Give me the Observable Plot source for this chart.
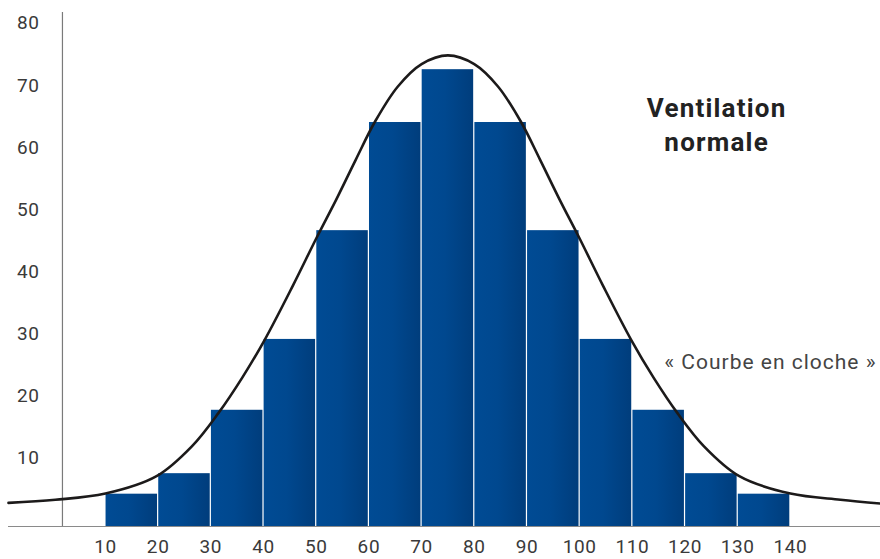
<!DOCTYPE html>
<html>
<head>
<meta charset="utf-8">
<script src="https://cdn.jsdelivr.net/npm/d3@7"></script>
<script src="https://cdn.jsdelivr.net/npm/@observablehq/plot@0.6"></script>
<style>
  html, body { margin: 0; padding: 0; background: #fff; }
  #chart svg { display: block; }
</style>
</head>
<body>
<div id="chart"></div>
<script>
// Histogram bins (lower edge of each class) and bar heights
const binLow = [10, 20, 30, 40, 50, 60, 70, 80, 90, 100, 110, 120, 130];
const binWidth = 10;
const counts = [5.2, 8.5, 18.7, 30.1, 47.6, 65.0, 73.5, 65.0, 47.6, 30.1, 18.7, 8.5, 5.2];

// Bell curve points
const curveX = [-8.4, 0.5, 10, 19.7, 26.4, 31.4, 36.0, 40.2, 45.6, 50.1, 53.8, 57.5, 61.2, 65.5, 70, 75,
                80, 84.5, 88.8, 92.5, 96.2, 99.9, 104.4, 109.8, 114, 118.6, 123.6, 130.3, 140, 149.5, 157.1];
const curveY = [3.8, 4.3, 5.3, 8.1, 12.9, 18.2, 24.0, 30.0, 38.8, 46.5, 52.6, 59.0, 65.2, 70.8, 74.4, 75.8,
                74.4, 70.8, 65.2, 59.0, 52.6, 46.5, 38.8, 30.0, 24.0, 18.2, 12.9, 8.1, 5.3, 4.3, 3.7];

// Tick labels
const xTicks = [10, 20, 30, 40, 50, 60, 70, 80, 90, 100, 110, 120, 130, 140];
const yTicks = [10, 20, 30, 40, 50, 60, 70, 80];

// Annotations
const titleText = "Ventilation\nnormale";
const curveLabel = "«\u00A0Courbe en cloche\u00A0»";

const bars = binLow.map((x, i) => ({x1: x, x2: x + binWidth, y: counts[i]}));
const curve = curveX.map((x, i) => ({x, y: curveY[i]}));

const font = "Roboto, 'DejaVu Sans', sans-serif";

const chart = Plot.plot({
  width: 880,
  height: 559,
  marginTop: 12,
  marginBottom: 33,
  marginLeft: 8,
  marginRight: 0,
  style: {fontFamily: font, background: "#fff", overflow: "visible"},
  x: {domain: [-8.4, 157.1]},
  y: {domain: [0, 82.7]},
  marks: [
    Plot.ruleY([0], {stroke: "#8a8a8a", strokeWidth: 1.2}),
    Plot.ruleX([1.84], {y1: 0, y2: 82.7, stroke: "#7a7a7a", strokeWidth: 1.2}),
    Plot.rectY(bars, {x1: "x1", x2: "x2", y: "y", fill: "url(#barGrad)", insetLeft: 0.6, insetRight: 0.6}),
    Plot.line(curve, {x: "x", y: "y", curve: "catmull-rom", stroke: "#1c1a1a", strokeWidth: 2.6}),
    Plot.axisX({ticks: xTicks, tickSize: 0, tickPadding: 13, fontSize: 19, fill: "#3a3a3a", label: null}),
    Plot.axisY({ticks: yTicks, tickSize: 0, tickPadding: 0, dx: 31, dy: -6, fontSize: 19, fill: "#3a3a3a", label: null}),
    Plot.text([titleText], {x: 126.0, y: 64.9, text: d => d, fontSize: 26, fontWeight: "bold", fill: "#222", lineHeight: 1.3, textAnchor: "middle", fontFamily: font}),
    Plot.text([curveLabel], {x: 136.2, y: 26.4, text: d => d, fontSize: 21, fill: "#444", textAnchor: "middle", fontFamily: font})
  ]
});

const defs = d3.select(chart).insert("defs", ":first-child");
const g = defs.append("linearGradient").attr("id", "barGrad").attr("x1", "0").attr("x2", "1").attr("y1", "0").attr("y2", "0");
g.append("stop").attr("offset", "0%").attr("stop-color", "#004b94");
g.append("stop").attr("offset", "45%").attr("stop-color", "#00488f");
g.append("stop").attr("offset", "100%").attr("stop-color", "#003d7c");

// letter spacing to mimic the wider original typeface
const textGroups = d3.select(chart).selectAll('g[aria-label="text"]').nodes();
if (textGroups[0]) d3.select(textGroups[0]).attr("letter-spacing", "1.2px");
if (textGroups[1]) d3.select(textGroups[1]).attr("letter-spacing", "1px");
d3.select(chart).selectAll('g[aria-label="x-axis tick label"], g[aria-label="y-axis tick label"]').attr("letter-spacing", "0.6px");

document.getElementById("chart").appendChild(chart);
</script>
</body>
</html>
